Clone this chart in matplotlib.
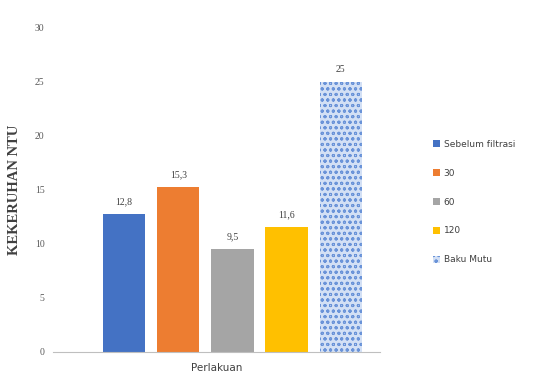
import matplotlib.pyplot as plt

# Kekeruhan per perlakuan
labels = ["Sebelum filtrasi", "30", "60", "120", "Baku Mutu"]
values = [12.8, 15.3, 9.5, 11.6, 25]
value_text = ["12,8", "15,3", "9,5", "11,6", "25"]
colors = ["#4472C4", "#ED7D31", "#A5A5A5", "#FFC000", "#D3E0F5"]
y_ticks = [0, 5, 10, 15, 20, 25, 30]

plt.rcParams['hatch.linewidth'] = 0.7

fig = plt.figure(figsize=(5.41, 3.82), dpi=100)
ax = fig.add_axes([0.098, 0.079, 0.604, 0.848])

x = list(range(len(values)))
bars = []
for i in x:
    if labels[i] == "Baku Mutu":
        b = ax.bar(i, values[i], width=0.78, color=colors[i], edgecolor="#6A93D8",
                   hatch="ooo", linewidth=0, label=labels[i])
    else:
        b = ax.bar(i, values[i], width=0.78, color=colors[i], label=labels[i])
    bars.append(b)
    ax.text(i, values[i] + 0.7, value_text[i], ha="center", va="bottom",
            fontsize=7, family="Liberation Serif", color="#404040")

ax.set_xlim(-1.31, 4.72)
ax.set_ylim(0, 30)
ax.set_yticks(y_ticks)
ax.set_yticklabels([str(t) for t in y_ticks], family="Liberation Serif",
                   fontsize=7, color="#595959")
ax.tick_params(axis="y", length=0, pad=6)
ax.set_xticks([])
ax.set_xlabel("Perlakuan", fontsize=7.5, color="#404040", labelpad=8)
ax.set_ylabel("KEKERUHAN NTU", family="Liberation Serif", fontsize=10.5,
              fontweight="bold", color="#404040", labelpad=10)

for s in ["top", "right", "left"]:
    ax.spines[s].set_visible(False)
ax.spines["bottom"].set_color("#BFBFBF")

fig.legend(handles=bars, labels=labels, loc="upper left",
           bbox_to_anchor=(0.785, 0.655), frameon=False, fontsize=6.5,
           handlelength=0.8, handleheight=0.8, handletextpad=0.4,
           labelspacing=2.2, labelcolor="#404040")

fig.savefig("out.png", dpi=100)
